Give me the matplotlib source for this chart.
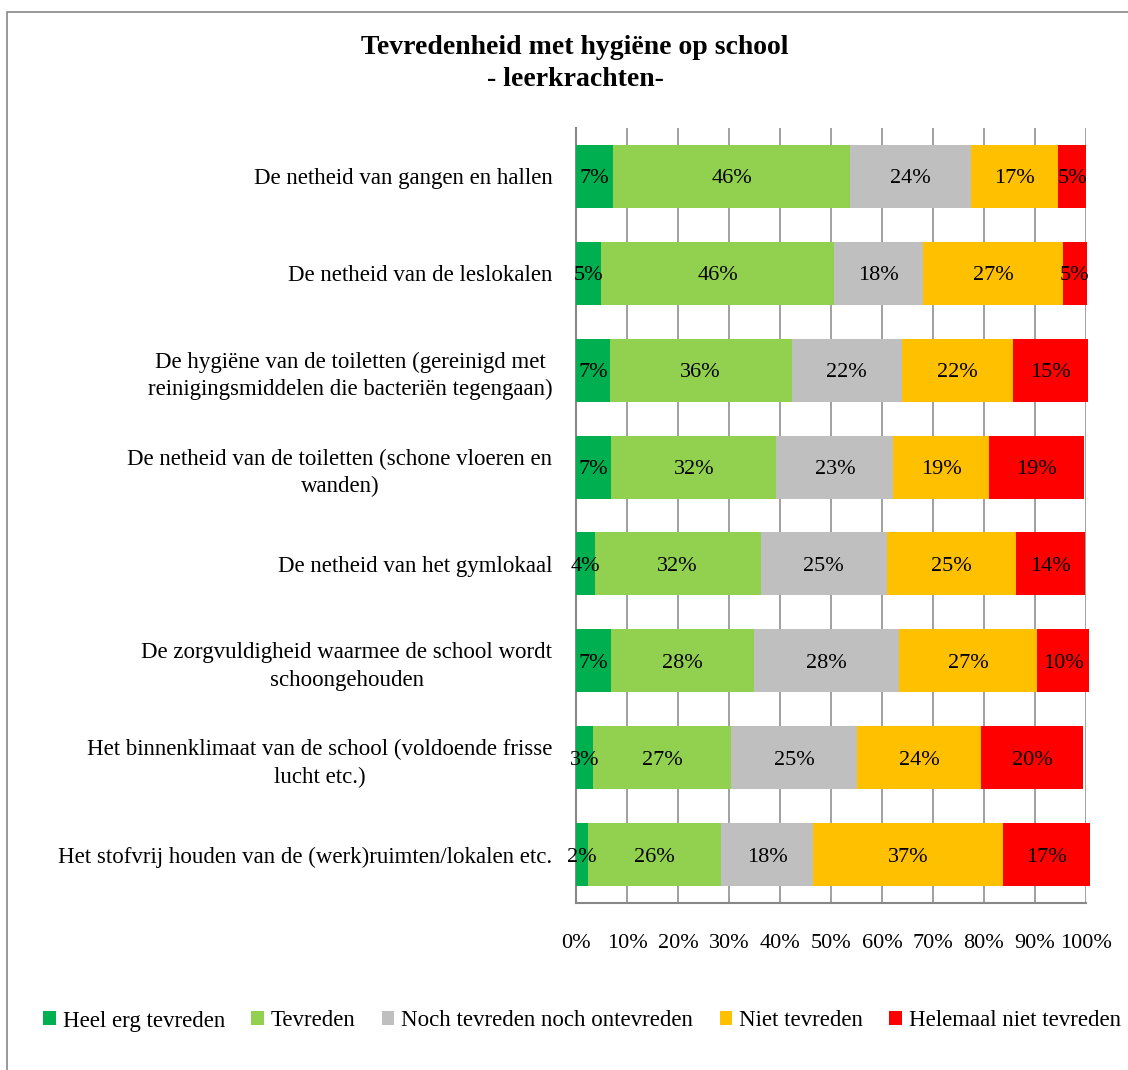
import numpy as np
import matplotlib.pyplot as plt
from matplotlib.patches import Rectangle

plt.rcParams['font.family'] = ['Liberation Serif', 'DejaVu Serif']

# categories, top to bottom
categories = [
    "De netheid van gangen en hallen",
    "De netheid van de leslokalen",
    "De hygiëne van de toiletten (gereinigd met\nreinigingsmiddelen die bacteriën tegengaan)",
    "De netheid van de toiletten (schone vloeren en\nwanden)",
    "De netheid van het gymlokaal",
    "De zorgvuldigheid waarmee de school wordt\nschoongehouden",
    "Het binnenklimaat van de school (voldoende frisse\nlucht etc.)",
    "Het stofvrij houden van de (werk)ruimten/lokalen etc.",
]

series_names = ["Heel erg tevreden", "Tevreden", "Noch tevreden noch ontevreden",
                "Niet tevreden", "Helemaal niet tevreden"]

heel_erg = [7.3, 4.9, 6.6, 6.9, 3.7, 6.9, 3.3, 2.4]
tevreden = [46.5, 45.7, 35.7, 32.4, 32.5, 28.0, 27.1, 26.1]
noch = [23.7, 17.5, 21.6, 22.9, 24.7, 28.4, 24.7, 18.0]
niet = [17.1, 27.3, 21.8, 18.8, 25.4, 27.1, 24.3, 37.3]
helemaal = [5.4, 4.7, 14.6, 18.6, 13.6, 10.2, 20.0, 16.9]

colors = ["#00B050", "#92D050", "#BFBFBF", "#FFC000", "#FF0000"]

data = [heel_erg, tevreden, noch, niet, helemaal]

fig = plt.figure(figsize=(11.28, 10.7), dpi=100)
ax = fig.add_axes([576 / 1128, 167 / 1070, 510 / 1128, 775 / 1070])

y = np.arange(len(categories))
left = np.zeros(len(categories))
for vals, col, name in zip(data, colors, series_names):
    vals = np.array(vals)
    ax.barh(y, vals, left=left, height=0.65, color=col, label=name,
            zorder=3, clip_on=False)
    for yi, l, v in zip(y, left, vals):
        ax.text(l + v / 2, yi, f"{round(v):.0f}%", ha="center",
                va="center_baseline", fontsize=16, zorder=4)
    left += vals

ax.set_xlim(0, 100)
ax.set_ylim(len(categories) - 0.5, -0.5)
ax.set_xticks(np.arange(0, 101, 10))
ax.set_xticklabels([f"{t}%" for t in range(0, 101, 10)], fontsize=16)
ax.set_yticks(y)
ax.set_yticklabels(categories, fontsize=16.5, ha="right")
for lbl in ax.get_yticklabels():
    lbl.set_multialignment("center")
    lbl.set_linespacing(1.4)
ax.tick_params(axis="both", length=0)
ax.tick_params(axis="x", pad=22)
ax.tick_params(axis="y", pad=17)

ax.xaxis.grid(True, color="#999999", linewidth=1.3, zorder=0)
ax.set_axisbelow(True)
for s in ["top", "right"]:
    ax.spines[s].set_visible(False)
for s in ["left", "bottom"]:
    ax.spines[s].set_color("#888888")
    ax.spines[s].set_linewidth(1.5)

fig.text(575 / 1128, 1 - 47 / 1070, "Tevredenheid met hygiëne op school",
         ha="center", va="center", fontsize=20, fontweight="bold")
fig.text(575 / 1128, 1 - 79 / 1070, "- leerkrachten-",
         ha="center", va="center", fontsize=20, fontweight="bold")

fig.legend(loc="center", bbox_to_anchor=(582 / 1128, 1 - 1021 / 1070), ncol=5,
           frameon=False, fontsize=16.5, handlelength=0.55, handleheight=0.55,
           handletextpad=0.3, columnspacing=1.15)

# outer frame
fig.patches.append(Rectangle((7 / 1128, -0.1), 1.2, 1 - 12 / 1070 + 0.1,
                             transform=fig.transFigure, fill=False,
                             edgecolor="#888888", linewidth=1.2))

fig.savefig("out.png", dpi=100)
